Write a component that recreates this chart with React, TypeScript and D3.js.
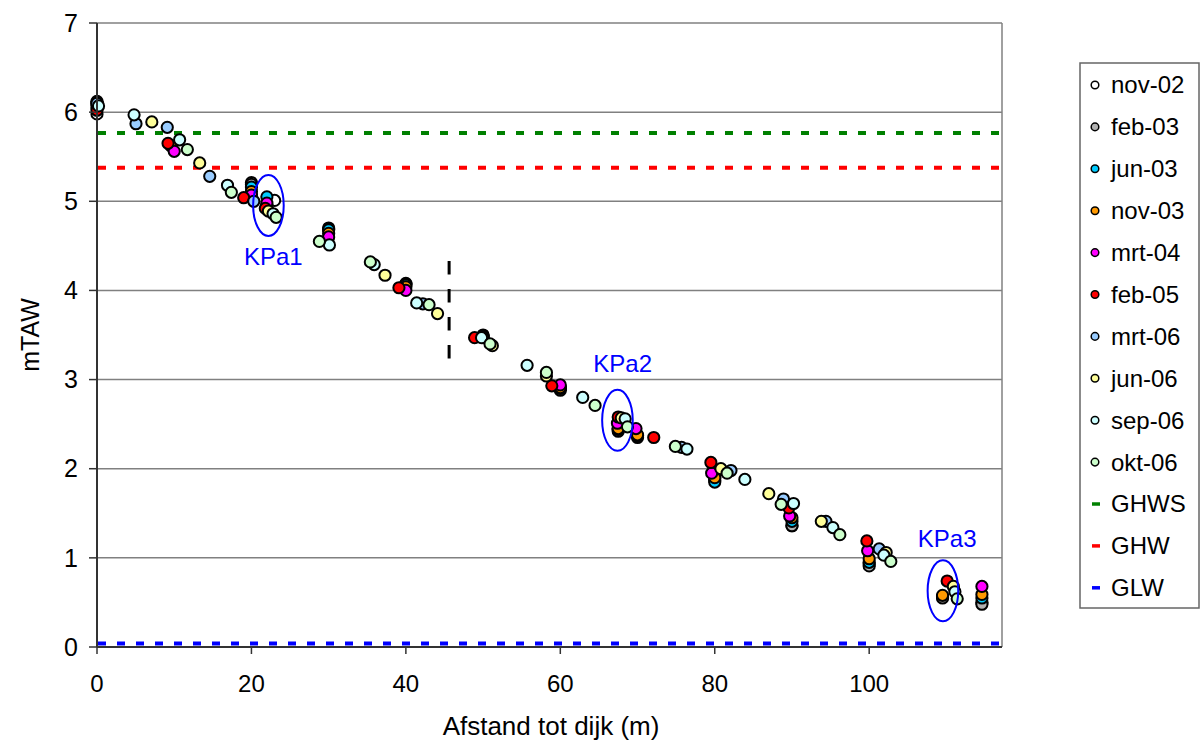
import React from 'react';
import * as d3 from 'd3';

// ---- data ----
const xTicks = [0, 20, 40, 60, 80, 100];
const yTicks = [0, 1, 2, 3, 4, 5, 6, 7];
const xDomain = [0, 117.2];
const yDomain = [0, 7];

type P = [number, number];

const nov02: P[] = [[0, 5.98], [20, 5.21], [23, 5.01], [30, 4.7], [40, 4.08], [50, 3.5], [60, 2.9], [67.5, 2.45], [70, 2.37], [80, 1.9], [90, 1.36], [100, 0.93], [109.5, 0.56], [114.6, 0.5]];
const feb03: P[] = [[0, 6.12], [20, 5.19], [22, 4.96], [30, 4.69], [40, 4.07], [50, 3.49], [60, 2.88], [67.5, 2.42], [70, 2.35], [80, 1.87], [90, 1.36], [100, 0.91], [109.5, 0.55], [114.6, 0.48]];
const jun03: P[] = [[0, 6.1], [20, 5.16], [22, 5.05], [30, 4.68], [40, 4.06], [50, 3.48], [60, 2.9], [67.5, 2.44], [70, 2.37], [80, 1.85], [90, 1.41], [100, 0.95], [114.6, 0.55]];
const nov03: P[] = [[0, 6.08], [9.6, 5.62], [20, 5.11], [22, 4.95], [30, 4.64], [40, 4.04], [50, 3.47], [60, 2.91], [67.5, 2.45], [70, 2.38], [80, 1.9], [90, 1.45], [100, 0.99], [109.5, 0.58], [114.6, 0.59]];
const mrt04: P[] = [[0, 6.05], [10, 5.56], [20, 5.07], [22, 4.98], [30, 4.6], [40, 4.0], [60, 2.94], [67.4, 2.51], [69.8, 2.45], [79.6, 1.95], [89.7, 1.47], [99.8, 1.08], [114.6, 0.68]];
const feb05: P[] = [[0, 6.02], [9.2, 5.65], [19, 5.04], [21.8, 4.92], [39.1, 4.03], [48.9, 3.47], [58.9, 2.93], [67.5, 2.58], [72.1, 2.35], [79.5, 2.07], [89.6, 1.56], [99.7, 1.19], [110.1, 0.74]];
const mrt06: P[] = [[0, 6.1], [5.05, 5.87], [9.1, 5.83], [14.6, 5.28], [20.3, 5.0], [42.2, 3.85], [75.7, 2.24], [82.1, 1.98], [88.9, 1.66], [94.4, 1.41], [101.3, 1.1]];
const jun06: P[] = [[7.1, 5.89], [13.3, 5.43], [22.2, 4.89], [37.3, 4.17], [44.1, 3.74], [51.2, 3.38], [58.2, 3.04], [67.9, 2.57], [80.8, 2.0], [87.0, 1.72], [93.8, 1.41], [102.2, 1.06], [110.9, 0.68]];
const sep06: P[] = [[0.2, 6.07], [4.8, 5.97], [10.7, 5.69], [16.9, 5.18], [22.8, 4.86], [30.1, 4.51], [35.9, 4.29], [41.4, 3.86], [49.8, 3.47], [55.7, 3.16], [62.9, 2.8], [68.4, 2.56], [76.4, 2.22], [83.9, 1.88], [90.2, 1.61], [95.3, 1.34], [101.9, 1.03], [111.1, 0.62]];
const okt06: P[] = [[11.7, 5.58], [17.4, 5.1], [23.2, 4.82], [28.8, 4.55], [35.4, 4.32], [43.0, 3.84], [50.9, 3.4], [58.2, 3.08], [64.5, 2.71], [68.7, 2.47], [74.9, 2.25], [81.6, 1.95], [88.6, 1.6], [96.2, 1.26], [102.8, 0.96], [111.4, 0.54]];

const seriesNames = ['nov-02', 'feb-03', 'jun-03', 'nov-03', 'mrt-04', 'feb-05', 'mrt-06', 'jun-06', 'sep-06', 'okt-06'];
const seriesData = [nov02, feb03, jun03, nov03, mrt04, feb05, mrt06, jun06, sep06, okt06];

const levelNames = ['GHWS', 'GHW', 'GLW'];
const levelValues = [5.765, 5.377, 0.04];

const boundaryX = 45.6;
const boundaryRange = [3.22, 4.33];

const zoneNames = ['KPa1', 'KPa2', 'KPa3'];
const zoneCenters: P[] = [[22.2, 4.953], [67.4, 2.543], [109.55, 0.63]];
const zoneLabels: P[] = [[22.84, 4.285], [68.07, 3.09], [110.1, 1.12]];

// ---- styles ----
const seriesColors = ['#FFFFFF', '#B2B2B2', '#00CCFF', '#FF9900', '#FF00FF', '#FF0000', '#99CCFF', '#FFFF99', '#CCFFFF', '#CCFFCC'];
const levelColors = ['#008000', '#FF0000', '#0000FF'];
const FONT = '"Liberation Sans", Arial, sans-serif';

export default function App() {
  const W = 1202, H = 742;
  const x = d3.scaleLinear().domain(xDomain).range([97, 1002]);
  const y = d3.scaleLinear().domain(yDomain).range([647, 23]);
  const [x0, x1] = x.range();
  const [yb, yt] = y.range();

  const legendX = 1080, legendY = 63, legendW = 119, legendH = 545;
  const legendItems = [...seriesNames.map((n, i) => ({ n, kind: 'dot', c: seriesColors[i] })),
    ...levelNames.map((n, i) => ({ n, kind: 'line', c: levelColors[i] }))];

  return (
    <svg width={W} height={H} style={{ position: 'absolute', left: 0, top: 0, background: '#fff' }} fontFamily={FONT}>
      <rect x={0} y={0} width={W} height={H} fill="#fff" />
      {yTicks.map(t => (
        <line key={'g' + t} x1={x0} x2={x1} y1={y(t)} y2={y(t)} stroke="#808080" strokeWidth={1.5} />
      ))}
      <line x1={x1} x2={x1} y1={yt} y2={yb} stroke="#808080" strokeWidth={1.5} />
      {levelValues.map((v, i) => (
        <line key={'l' + i} x1={x0 + 1} x2={x1 - 1} y1={y(v)} y2={y(v)} stroke={levelColors[i]} strokeWidth={4} strokeDasharray="8 11" />
      ))}
      <line x1={x(boundaryX)} x2={x(boundaryX)} y1={y(boundaryRange[1])} y2={y(boundaryRange[0])} stroke="#000" strokeWidth={3} strokeDasharray="13.5 14.5" />
      {seriesData.map((s, i) => (
        <g key={'s' + i}>
          {s.map((p, j) => (
            <circle key={j} cx={x(p[0])} cy={y(p[1])} r={5.6} fill={seriesColors[i]} stroke="#000" strokeWidth={2} />
          ))}
        </g>
      ))}
      <line x1={x0} x2={x0} y1={yt} y2={yb} stroke="#333" strokeWidth={2} />
      <line x1={x0} x2={x1} y1={yb} y2={yb} stroke="#333" strokeWidth={2} />
      {yTicks.map(t => (
        <g key={'yt' + t}>
          <line x1={x0 - 8} x2={x0} y1={y(t)} y2={y(t)} stroke="#333" strokeWidth={1.5} />
          <text x={78} y={y(t)} dy="0.35em" textAnchor="end" fontSize={25} fill="#000">{t}</text>
        </g>
      ))}
      {xTicks.map(t => (
        <g key={'xt' + t}>
          <line x1={x(t)} x2={x(t)} y1={yb} y2={yb + 7} stroke="#333" strokeWidth={1.5} />
          <text x={x(t)} y={692} textAnchor="middle" fontSize={24} fill="#000">{t}</text>
        </g>
      ))}
      <text x={551} y={735} textAnchor="middle" fontSize={26} fill="#000">Afstand tot dijk (m)</text>
      <text transform="translate(39,335) rotate(-90)" textAnchor="middle" fontSize={25} fill="#000">mTAW</text>
      {zoneNames.map((n, i) => (
        <g key={'z' + i}>
          <ellipse cx={x(zoneCenters[i][0])} cy={y(zoneCenters[i][1])} rx={15.3} ry={30.5} fill="none" stroke="#0000FF" strokeWidth={2} />
          <text x={x(zoneLabels[i][0])} y={y(zoneLabels[i][1])} textAnchor="middle" fontSize={24} fill="#0000FF">{n}</text>
        </g>
      ))}
      <rect x={legendX} y={legendY} width={legendW} height={legendH} fill="#fff" stroke="#666" strokeWidth={1.5} />
      {legendItems.map((it, i) => {
        const cy = 85 + i * 41.9;
        return (
          <g key={'lg' + i}>
            {it.kind === 'dot'
              ? <circle cx={1095} cy={cy} r={3.8} fill={it.c} stroke="#000" strokeWidth={1.5} />
              : <line x1={1092} x2={1100} y1={cy} y2={cy} stroke={it.c} strokeWidth={3.5} />}
            <text x={1111} y={cy} dy="0.35em" fontSize={24} fill="#000">{it.n}</text>
          </g>
        );
      })}
    </svg>
  );
}
